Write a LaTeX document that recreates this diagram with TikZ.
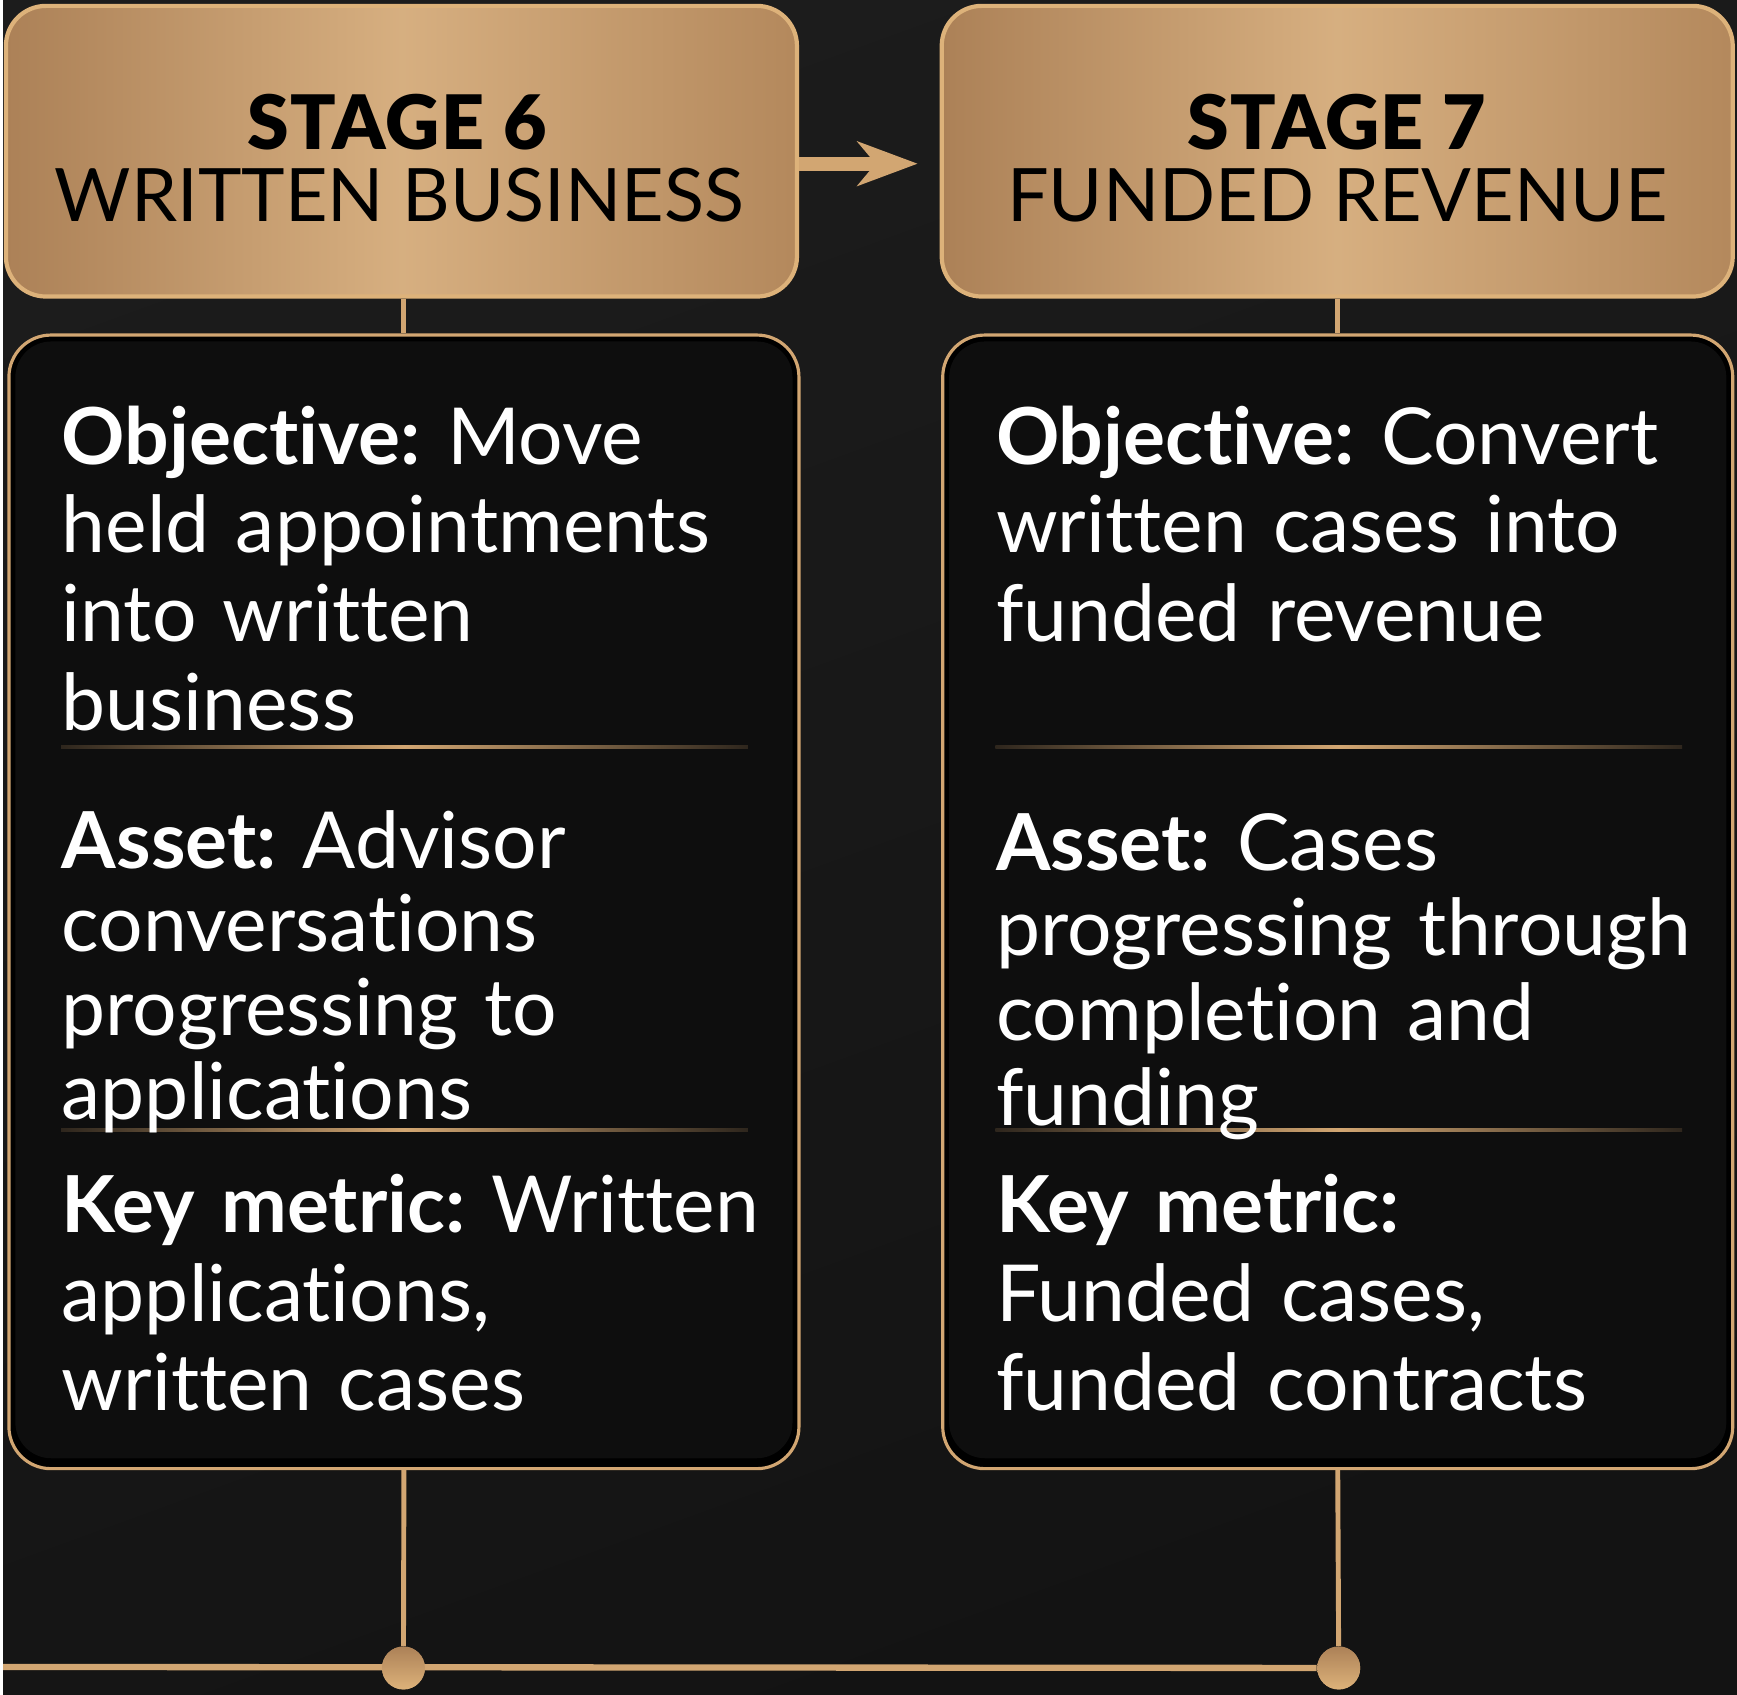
\documentclass[tikz,border=0pt]{standalone}
\usepackage{fontspec}
\setmainfont{Lato}[Ligatures=NoCommon]
\newfontfamily\blackfont{Lato Black}[Ligatures=NoCommon, LetterSpace=2]
\usetikzlibrary{arrows.meta,positioning}
\frenchspacing

\definecolor{bgtop}{HTML}{1C1C1C}
\definecolor{bgbottom}{HTML}{131313}
\definecolor{goldlight}{HTML}{DDB27A}
\definecolor{goldmid}{HTML}{D2A672}
\definecolor{golddark}{HTML}{AC8157}
\definecolor{goldfade}{HTML}{2E261D}
\definecolor{panel}{HTML}{0E0E0E}

\begin{document}
\begin{tikzpicture}[x=0.01cm,y=-0.01cm,
    stagebox/.style={rounded corners=0.4cm, minimum width=7.92cm, minimum height=2.91cm,
        left color=golddark, right color=golddark!80!goldmid, middle color=goldmid!90!white,
        draw=goldlight, line width=1.2pt, inner sep=0pt},
    stagenum/.style={anchor=base, inner sep=0pt, text=black, font=\blackfont\fontsize{21.4}{24}\selectfont},
    stagename/.style={anchor=base, inner sep=0pt, text=black, font=\fontsize{21}{24}\selectfont},
    detailbox/.style={rounded corners=0.42cm, minimum width=7.91cm, minimum height=11.35cm,
        fill=black, draw=goldmid, line width=0.9pt, inner sep=0pt},
    detailtext/.style={anchor=base west, inner sep=0pt, text=white, align=left, text width=7cm,
        font=\fontsize{22.4}{25.3}\selectfont},
    divider/.style={left color=goldfade, right color=goldfade, middle color=goldmid},
    linkline/.style={draw=goldmid, line width=1.4pt},
    railline/.style={draw=goldmid, line width=1.8pt},
    hubdot/.style={circle, minimum size=0.43cm, inner sep=0pt, top color=golddark, bottom color=goldlight},
    flowarrow/.style={draw=goldmid, line width=4pt,
        -{Stealth[length=0.6cm, width=0.44cm, inset=0.18cm]}, shorten >=0.22cm}
  ]
  % background
  \shade[top color=bgtop, bottom color=bgbottom, shading angle=20] (0,0) rectangle (1737,1698);

  % stage headers
  \node[stagebox] (s6) at (399,151.5) {};
  \node[stagebox] (s7) at (1336.5,151.5) {};
  \node[stagenum] (n6) at (395,150) {STAGE 6};
  \node[stagename] (w6) at (397,222) {WRITTEN BUSINESS};
  \node[stagenum] (n7) at (1336,150) {STAGE 7};
  \node[stagename] (w7) at (1336.5,222) {FUNDED REVENUE};
  \draw[flowarrow] ([yshift=-0.125cm]s6.east) -- ([yshift=-0.125cm]s7.west);

  % detail panels
  \node[detailbox] (d6) at (401.5,903.5) {};
  \node[detailbox] (d7) at (1337,903.5) {};
  \fill[panel, rounded corners=0.36cm] ([shift={(8,8)}]d6.north west) rectangle ([shift={(-8,-12)}]d6.south east);
  \fill[panel, rounded corners=0.36cm] ([shift={(8,8)}]d7.north west) rectangle ([shift={(-8,-12)}]d7.south east);
  \draw[linkline] (s6.south -| d6.north) -- (d6.north);
  \draw[linkline] (s7.south -| d7.north) -- (d7.north);

  \shade[divider] (58,747) rectangle (746,749.5);
  \shade[divider] (58,1131) rectangle (746,1133.5);
  \shade[divider] (994,747) rectangle (1682,749.5);
  \shade[divider] (994,1131) rectangle (1682,1133.5);

  \node[detailtext] (o6) at (58,465) {\textbf{Objective:} Move\\held appointments\\into written\\business};
  \node[detailtext, font=\fontsize{22.4}{23.8}\selectfont] (a6) at (58,870) {\textbf{Asset:} Advisor\\conversations\\progressing to\\applications};
  \node[detailtext] (k6) at (58,1235) {\textbf{Key metric:} Written\\applications,\\written cases};
  \node[detailtext] (o7) at (994,465) {\textbf{Objective:} Convert\\written cases into\\funded revenue};
  \node[detailtext, font=\fontsize{22.4}{24.2}\selectfont] (a7) at (994,872) {\textbf{Asset:} Cases\\progressing through\\completion and\\funding};
  \node[detailtext] (k7) at (994,1235) {\textbf{Key metric:}\\Funded cases,\\funded contracts};

  % bottom rail
  \node[hubdot] (h6) at (401,1671) {};
  \node[hubdot] (h7) at (1338,1671) {};
  \coordinate (railstart) at (0,1670);
  \draw[linkline] (d6.south) -- (h6);
  \draw[linkline] (d7.south) -- (h7);
  \draw[railline] (railstart) -- (h7);
  \node[hubdot] at (h6) {};
  \node[hubdot] at (h7) {};
\end{tikzpicture}
\end{document}
